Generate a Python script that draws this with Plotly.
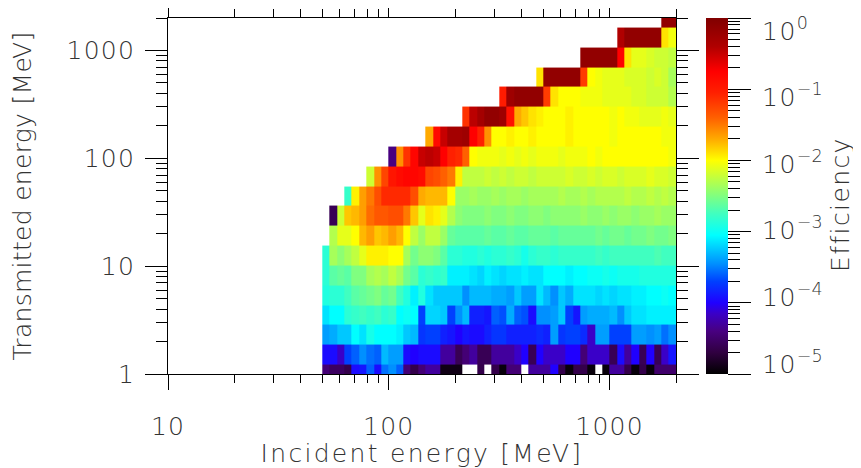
import numpy as np
import plotly.graph_objects as go

# energy bins of the 2-D efficiency histogram [MeV]
incident_edges = np.logspace(np.log10(50), np.log10(2000), 49)
transmitted_edges = np.logspace(np.log10(0.8), np.log10(2500), 20)

# first filled incident-energy bin of each transmitted-energy row (bottom -> top)
row_start = [0, 0, 0, 0, 0, 0, 0, 1, 1, 3, 6, 9, 14, 19, 24, 29, 35, 40, 46]

# log10(efficiency), one list per transmitted-energy row, left to right from row_start
r00 = [-4.45, -4.55, -4.55, -4.65, -3.95, -3.9, -3.6, -3.95, -3.55, -3.45,
       -3.6, -4.45, -4.65, -4.45, -4.3, -4.3, -4.9, -4.9, -4.9, None,
       None, -4.65, None, -4.65, -4.95, -4.45, -4.45, None, -4.3, -4.3,
       -4.3, -4.0, -4.65, -4.95, -4.65, -4.65, -4.95, None, -4.95, -4.3,
       -4.3, -4.65, -4.95, -4.65, -4.95, -4.5, -4.5, -4.5]
r01 = [-3.95, -3.95, -4.15, -3.7, -3.6, -3.45, -3.55, -3.6, -3.3, -3.4,
       -3.4, -3.95, -4.0, -3.95, -3.95, -3.95, -4.3, -4.3, -4.6, -4.45,
       -4.3, -4.6, -4.6, -4.3, -4.3, -4.3, -4.15, -4.0, -4.6, -4.0,
       -4.15, -4.15, -4.15, -4.0, -4.0, -4.45, -4.15, -4.15, -4.15, -4.6,
       -3.95, -4.3, -4.0, -4.6, -4.0, -4.6, -4.15, -3.9]
r02 = [-3.4, -3.35, -3.25, -3.25, -3.05, -3.15, -2.95, -3.05, -3.05, -3.05,
       -3.1, -3.25, -3.3, -3.75, -3.7, -3.7, -3.85, -3.9, -4.0, -3.9,
       -3.95, -3.95, -3.85, -3.75, -3.75, -3.85, -3.85, -3.85, -3.85, -3.8,
       -3.85, -3.4, -3.75, -3.7, -3.7, -3.8, -4.15, -3.4, -3.4, -3.7,
       -3.7, -3.7, -3.4, -3.4, -3.45, -3.4, -3.55, -3.45]
r03 = [-3.15, -3.05, -3.05, -2.85, -2.8, -2.75, -2.8, -2.75, -2.85, -2.8,
       -3.05, -3.0, -3.05, -3.7, -3.2, -3.2, -3.25, -3.7, -3.45, -3.3,
       -3.85, -3.85, -3.9, -3.6, -3.65, -3.35, -3.6, -3.65, -3.95, -3.45,
       -3.45, -3.4, -3.25, -3.7, -3.9, -3.4, -3.35, -3.35, -3.35, -3.3,
       -3.45, -3.25, -3.15, -3.15, -3.1, -3.1, -3.1, -3.1]
r04 = [-2.9, -2.85, -2.85, -2.75, -2.65, -2.6, -2.55, -2.5, -2.6, -2.55,
       -2.75, -2.9, -3.1, -2.9, -3.15, -3.25, -3.25, -3.25, -3.25, -3.45,
       -3.3, -3.3, -3.3, -3.35, -3.35, -3.4, -3.25, -3.4, -3.4, -3.15,
       -3.3, -3.45, -3.25, -3.35, -3.15, -3.15, -3.15, -3.2, -3.15, -3.2,
       -3.15, -3.15, -3.1, -3.1, -3.05, -3.05, -3.0, -3.05]
r05 = [-2.85, -2.65, -2.6, -2.65, -2.5, -2.5, -2.35, -2.3, -2.35, -2.25,
       -2.35, -2.55, -2.65, -2.85, -2.8, -2.85, -2.8, -3.1, -3.1, -3.1,
       -3.15, -3.2, -3.1, -3.15, -3.2, -3.15, -3.15, -3.1, -3.15, -3.15,
       -3.05, -3.05, -3.05, -3.1, -3.05, -3.05, -3.0, -3.0, -2.95, -3.0,
       -2.95, -2.95, -2.95, -2.9, -2.9, -2.9, -2.9, -2.9]
r06 = [-2.85, -2.35, -2.45, -2.35, -2.25, -2.1, -1.95, -1.95, -1.95, -2.0,
       -2.0, -2.35, -2.55, -2.45, -2.45, -2.5, -2.65, -2.85, -2.85, -2.9,
       -2.9, -2.85, -2.9, -2.85, -2.85, -2.8, -2.85, -2.95, -2.85, -2.8,
       -2.8, -2.85, -2.8, -2.8, -2.8, -2.8, -2.8, -2.75, -2.8, -2.75,
       -2.75, -2.75, -2.75, -2.75, -2.75, -2.7, -2.75, -2.75]
r07 = [-2.3, -2.1, -2.1, -2.0, -1.75, -1.65, -1.8, -1.75, -1.65, -1.75,
       -2.0, -2.25, -2.4, -2.25, -2.25, -2.4, -2.6, -2.65, -2.65, -2.65,
       -2.65, -2.6, -2.65, -2.65, -2.6, -2.65, -2.65, -2.6, -2.6, -2.6,
       -2.65, -2.6, -2.6, -2.6, -2.6, -2.6, -2.55, -2.6, -2.55, -2.55,
       -2.6, -2.55, -2.55, -2.5, -2.55, -2.55, -2.5]
r08 = [-4.6, -2.2, -1.8, -1.75, -1.65, -1.45, -1.35, -1.35, -1.3, -1.3,
       -1.5, -1.8, -2.1, -1.9, -1.95, -2.1, -2.3, -2.45, -2.5, -2.5,
       -2.5, -2.45, -2.5, -2.5, -2.45, -2.5, -2.5, -2.45, -2.45, -2.5,
       -2.45, -2.45, -2.45, -2.45, -2.4, -2.45, -2.45, -2.4, -2.45, -2.4,
       -2.4, -2.45, -2.4, -2.4, -2.35, -2.4, -2.4]
r09 = [-2.8, -1.95, -1.65, -1.5, -1.3, -1.1, -1.1, -1.1, -1.1, -1.3,
       -1.7, -1.75, -1.75, -1.75, -2.0, -2.4, -2.4, -2.35, -2.4, -2.4,
       -2.35, -2.4, -2.35, -2.35, -2.4, -2.35, -2.35, -2.35, -2.35, -2.3,
       -2.35, -2.35, -2.3, -2.35, -2.3, -2.3, -2.3, -2.3, -2.25, -2.3,
       -2.3, -2.25, -2.3, -2.25, -2.3]
r10 = [-2.2, -1.6, -1.25, -0.95, -0.85, -0.8, -0.8, -0.85, -1.25, -1.3,
       -1.4, -1.5, -1.95, -2.25, -2.25, -2.25, -2.2, -2.25, -2.2, -2.25,
       -2.2, -2.2, -2.25, -2.2, -2.2, -2.2, -2.2, -2.15, -2.2, -2.2,
       -2.15, -2.2, -2.15, -2.15, -2.2, -2.15, -2.15, -2.15, -2.1, -2.15,
       -2.15, -2.2]
r11 = [-4.4, -1.6, -1.15, -0.8, -0.5, -0.45, -0.5, -0.75, -1.05, -1.1,
       -1.4, -2.0, -2.05, -2.05, -2.05, -2.1, -2.05, -2.1, -2.05, -2.1,
       -2.05, -2.05, -2.05, -2.1, -2.05, -2.05, -2.05, -2.0, -2.05, -2.0,
       -2.0, -2.0, -2.0, -2.0, -2.0, -2.0, -2.0, -2.0, -2.05]
r12 = [-1.7, -0.85, -0.5, -0.3, -0.3, -0.25, -0.75, -1.05, -1.6, -2.0,
       -2.0, -1.95, -2.0, -2.0, -1.95, -2.0, -2.0, -2.0, -2.0, -1.95,
       -2.0, -2.0, -2.0, -2.0, -2.0, -2.05, -2.0, -2.0, -2.0, -2.0,
       -2.0, -2.0, -2.05, -2.05]
r13 = [-1.15, -0.45, -0.3, -0.15, -0.15, -0.25, -0.9, -1.7, -1.8, -1.9,
       -1.95, -2.0, -2.0, -2.0, -1.95, -2.0, -2.0, -2.0, -2.0, -2.0,
       -2.05, -2.0, -2.05, -2.05, -2.1, -2.1, -2.1, -2.05, -2.1]
r14 = [-1.0, -0.25, -0.15, -0.15, -0.15, -0.15, -1.2, -1.9, -2.0, -2.0,
       -2.0, -2.05, -2.05, -2.05, -2.1, -2.1, -2.1, -2.1, -2.15, -2.15,
       -2.2, -2.2, -2.2, -2.3]
r15 = [-1.9, -0.15, -0.15, -0.15, -0.15, -0.15, -1.2, -2.0, -2.05, -2.1,
       -2.1, -2.1, -2.15, -2.15, -2.15, -2.2, -2.15, -2.2, -2.35]
r16 = [-0.15, -0.15, -0.15, -0.15, -0.15, -0.75, -1.9, -2.1, -2.1, -2.15,
       -2.2, -2.2, -2.25]
r17 = [-0.4, -0.15, -0.15, -0.15, -0.15, -0.15, -1.9, -2.05]
r18 = [-0.15, -0.15]

x_ticks = [10, 100, 1000]
y_ticks = [1, 10, 100, 1000]
cbar_ticks = [0, -1, -2, -3, -4, -5]

RAINBOW = [
    [0.0, "#000000"], [0.06, "#300040"], [0.12, "#480080"], [0.17, "#3a00c8"],
    [0.2, "#2000ff"], [0.26, "#0040ff"], [0.31, "#0090ff"], [0.39, "#00ffff"],
    [0.45, "#40ffc0"], [0.5, "#80ff80"], [0.55, "#c0ff40"], [0.6, "#ffff00"],
    [0.66, "#ffaa00"], [0.72, "#ff6000"], [0.79, "#ff2000"], [0.85, "#ff0000"],
    [0.92, "#b00000"], [1.0, "#800000"],
]
TXT = "#333333"
FONT = dict(family="DejaVu Sans", size=25, color=TXT, weight=200)
PLOT_H = 356  # plot-area height in px, used to place the colour-bar labels


def spaced(text, px):
    return "<span style='letter-spacing:%.1fpx'>%s</span>" % (px, text)


def minor_log(lo, hi):
    return [k * 10 ** e for e in range(lo, hi) for k in range(2, 10)]


rows = [r00, r01, r02, r03, r04, r05, r06, r07, r08, r09,
        r10, r11, r12, r13, r14, r15, r16, r17, r18]
z = [[None] * s + list(v) for s, v in zip(row_start, rows)]

cbar_common = dict(
    thickness=22, len=1, lenmode="fraction", x=1.059, xanchor="left",
    y=0.5, yanchor="middle", xpad=0, ypad=0, outlinewidth=0,
    ticks="outside", tickcolor="black", tickwidth=1, showticklabels=False,
)

fig = go.Figure()
fig.add_trace(go.Heatmap(
    x=incident_edges, y=transmitted_edges, z=z,
    zmin=-5, zmax=0, colorscale=RAINBOW, zsmooth=False, hoverongaps=False,
    colorbar=dict(**cbar_common, tickmode="array",
                  tickvals=[np.log10(v) for v in minor_log(-5, 0)], ticklen=12),
))
# second colour bar on top of the first: long major ticks
fig.add_trace(go.Scatter(
    x=[None], y=[None], mode="markers", showlegend=False, hoverinfo="skip",
    marker=dict(color=[-5, 0], cmin=-5, cmax=0, colorscale=RAINBOW, showscale=True,
                colorbar=dict(**cbar_common, tickmode="array", tickvals=cbar_ticks,
                              ticklen=23)),
))

# colour-bar labels: kept inside the bar height like the original (end labels pulled in)
for i, t in enumerate(cbar_ticks):
    sup = "\u2212%d" % -t if t else "0"
    fig.add_annotation(
        text=spaced("10", 1.5) + "<sup>%s</sup>" % sup,
        xref="paper", yref="paper", x=1.166, xanchor="left",
        y=1 - (11 + 66.6 * i) / PLOT_H, yanchor="middle",
        showarrow=False, font=FONT,
    )
fig.add_annotation(
    text=spaced("Efficiency", 1.4), textangle=-90,
    xref="paper", yref="paper", x=1.325, xanchor="center", y=0.475, yanchor="middle",
    showarrow=False, font=FONT,
)

axis_common = dict(
    type="log", showline=True, linecolor="black", linewidth=1, mirror="ticks",
    ticks="outside", tickcolor="black", tickwidth=1, showgrid=False, zeroline=False,
    tickfont=FONT,
)
fig.update_xaxes(
    **axis_common, range=[1, np.log10(2000)], tickvals=x_ticks,
    ticktext=[spaced(v, 1.2) for v in x_ticks], ticklen=15, ticklabelstandoff=15,
    minor=dict(tickvals=minor_log(1, 3) + [2000], ticks="outside", ticklen=8,
               tickcolor="black", showgrid=False),
    title=dict(text=spaced("Incident energy [MeV]", 2.3), standoff=10, font=FONT),
)
fig.update_yaxes(
    **axis_common, range=[0, np.log10(2000)], tickvals=y_ticks,
    ticktext=[spaced(v, 1.2) for v in y_ticks], ticklen=22, ticklabelstandoff=5,
    minor=dict(tickvals=minor_log(0, 3) + [2000], ticks="outside", ticklen=11,
               tickcolor="black", showgrid=False),
    title=dict(text=spaced("Transmitted energy [MeV]", 0.3), standoff=34, font=FONT),
)
# page body adds an 8 px margin, so the figure is drawn 8 px smaller and shifted
fig.update_layout(
    width=853, height=460,
    margin=dict(l=160, r=185, t=10, b=94, autoexpand=False),
    paper_bgcolor="white", plot_bgcolor="white",
    font=dict(family="DejaVu Sans", color=TXT),
)
fig.write_html("out.html")
